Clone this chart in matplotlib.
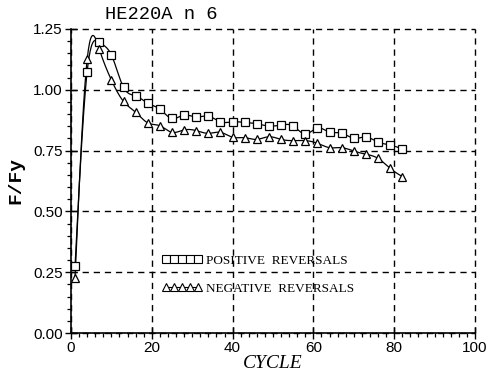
import numpy as np
import matplotlib
matplotlib.use("Agg")
import matplotlib.pyplot as plt
from matplotlib.ticker import MultipleLocator, FormatStrFormatter
from matplotlib.lines import Line2D

# Cycle numbers at which reversals were recorded
cycles = [1, 4, 7, 10, 13, 16, 19, 22, 25, 28, 31, 34, 37, 40,
          43, 46, 49, 52, 55, 58, 61, 64, 67, 70, 73, 76, 79, 82]

# Normalised force F/Fy at positive reversals
positive = [0.275, 1.075, 1.195, 1.143, 1.010, 0.975, 0.945, 0.920,
            0.882, 0.896, 0.888, 0.892, 0.868, 0.868, 0.866, 0.860,
            0.851, 0.855, 0.851, 0.818, 0.843, 0.826, 0.822, 0.800,
            0.806, 0.785, 0.773, 0.757]

# Normalised force F/Fy at negative reversals
negative = [0.228, 1.125, 1.167, 1.040, 0.952, 0.908, 0.864, 0.852,
            0.825, 0.835, 0.832, 0.821, 0.825, 0.805, 0.803, 0.796,
            0.807, 0.796, 0.791, 0.791, 0.780, 0.762, 0.762, 0.748,
            0.735, 0.718, 0.677, 0.643]

title = "HE220A n 6"
labels = ["POSITIVE  REVERSALS", "NEGATIVE  REVERSALS"]
xticks = [0, 20, 40, 60, 80, 100]
yticks = [0.00, 0.25, 0.50, 0.75, 1.00, 1.25]


def spline_path(x, y, per_seg=20):
    """Natural cubic spline through the given points, for drawing a smooth line."""
    x = np.asarray(x, float)
    y = np.asarray(y, float)
    n = len(x)
    h = np.diff(x)
    A = np.zeros((n, n))
    b = np.zeros(n)
    A[0, 0] = A[-1, -1] = 1.0
    for i in range(1, n - 1):
        A[i, i - 1] = h[i - 1]
        A[i, i] = 2 * (h[i - 1] + h[i])
        A[i, i + 1] = h[i]
        b[i] = 6 * ((y[i + 1] - y[i]) / h[i] - (y[i] - y[i - 1]) / h[i - 1])
    M = np.linalg.solve(A, b)
    xs, ys = [], []
    for i in range(n - 1):
        t = np.linspace(x[i], x[i + 1], per_seg, endpoint=(i == n - 2))
        a = x[i + 1] - t
        c = t - x[i]
        s = (M[i] * a ** 3 + M[i + 1] * c ** 3) / (6 * h[i]) \
            + (y[i] / h[i] - M[i] * h[i] / 6) * a \
            + (y[i + 1] / h[i] - M[i + 1] * h[i] / 6) * c
        xs.append(t)
        ys.append(s)
    return np.concatenate(xs), np.concatenate(ys)


fig = plt.figure(figsize=(4.91, 3.73), dpi=100)
ax = fig.add_axes([0.1446, 0.1072, 0.8228, 0.8151])

lw = 0.9
for vals, mk in ((positive, "s"), (negative, "^")):
    sx, sy = spline_path(cycles, vals)
    ax.plot(sx, sy, color="black", lw=lw, zorder=3)
    ax.plot(cycles, vals, linestyle="none", marker=mk, markersize=5.6,
            markerfacecolor="white", markeredgecolor="black",
            markeredgewidth=0.9, zorder=4)

ax.set_xlim(0, 100)
ax.set_ylim(0, 1.25)
ax.set_xticks(xticks)
ax.set_yticks(yticks)
ax.xaxis.set_minor_locator(MultipleLocator(2))
ax.yaxis.set_minor_locator(MultipleLocator(0.05))
ax.yaxis.set_major_formatter(FormatStrFormatter("%.2f"))

ax.tick_params(which="major", direction="inout", length=8, width=1.0,
               labelsize=11, pad=2)
ax.tick_params(which="minor", direction="out", length=3, width=0.9)
for lab in ax.get_xticklabels() + ax.get_yticklabels():
    lab.set_fontfamily("Liberation Sans")

for side in ("top", "right"):
    ax.spines[side].set_visible(False)
for side in ("left", "bottom"):
    ax.spines[side].set_linewidth(1.2)

ax.grid(True, which="major", color="black", linestyle=(0, (4.5, 3.5)),
        linewidth=1.0)
for gl in ax.get_xgridlines() + ax.get_ygridlines():
    gl.set_clip_on(False)
ax.set_axisbelow(True)

ax.text(0.083, 1.048, title, transform=ax.transAxes, fontsize=13.5,
        family="Liberation Mono", ha="left", va="center")
ax.set_ylabel("F/Fy", fontsize=14, family="Liberation Mono",
              fontweight="bold", labelpad=6)
ax.set_xlabel("CYCLE", fontsize=14, family="Liberation Serif",
              style="italic", labelpad=0)

handles = [
    Line2D([], [], color="black", lw=0.8, marker="s", markersize=5.2,
           markerfacecolor="white", markeredgecolor="black",
           markeredgewidth=0.8),
    Line2D([], [], color="black", lw=0.8, marker="^", markersize=5.2,
           markerfacecolor="white", markeredgecolor="black",
           markeredgewidth=0.8),
]
leg = ax.legend(handles, labels, loc="upper left",
                bbox_to_anchor=(0.212, 0.275), frameon=False, numpoints=5,
                handlelength=3.0, handletextpad=0.35, labelspacing=1.2,
                prop={"family": "Liberation Serif", "size": 9.5},
                borderaxespad=0)

fig.savefig("out.png", dpi=100)
